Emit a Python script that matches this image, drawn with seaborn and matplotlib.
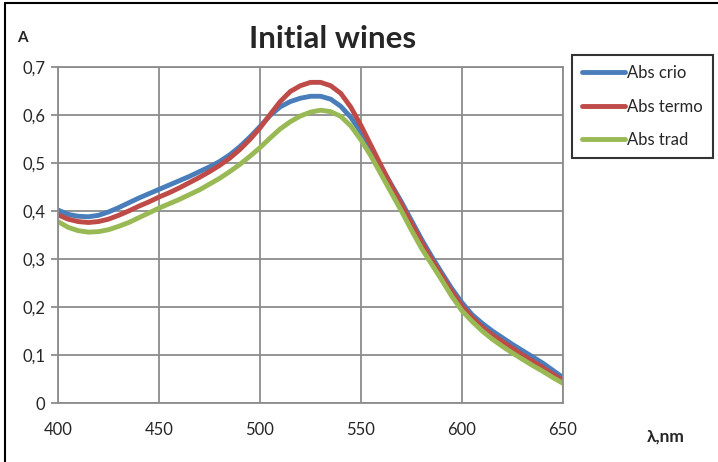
import numpy as np
import pandas as pd
import matplotlib
matplotlib.use("Agg")
import matplotlib.pyplot as plt
import seaborn as sns
from matplotlib.lines import Line2D

# wavelength, nm
wavelength = [400, 405, 410, 415, 420, 425, 430, 435, 440, 445, 450, 455, 460, 465, 470,
              475, 480, 485, 490, 495, 500, 505, 510, 515, 520, 525, 530, 535, 540, 545,
              550, 555, 560, 565, 570, 575, 580, 585, 590, 595, 600, 605, 610, 615, 620,
              625, 630, 635, 640, 645, 650]

abs_crio = [0.402, 0.393, 0.389, 0.388, 0.391, 0.398, 0.407, 0.417, 0.427, 0.436, 0.445,
            0.454, 0.463, 0.472, 0.482, 0.492, 0.503, 0.517, 0.534, 0.554, 0.576, 0.599,
            0.617, 0.628, 0.635, 0.639, 0.639, 0.633, 0.618, 0.595, 0.564, 0.528, 0.491,
            0.455, 0.419, 0.380, 0.341, 0.305, 0.271, 0.238, 0.209, 0.184, 0.166, 0.150,
            0.136, 0.122, 0.109, 0.096, 0.083, 0.068, 0.053]

abs_termo = [0.392, 0.383, 0.378, 0.376, 0.378, 0.383, 0.391, 0.400, 0.410, 0.419, 0.429,
             0.438, 0.448, 0.459, 0.470, 0.482, 0.495, 0.510, 0.528, 0.549, 0.573, 0.601,
             0.628, 0.649, 0.661, 0.668, 0.668, 0.661, 0.645, 0.616, 0.578, 0.536, 0.494,
             0.453, 0.414, 0.374, 0.335, 0.299, 0.265, 0.232, 0.202, 0.178, 0.158, 0.142,
             0.128, 0.114, 0.100, 0.087, 0.074, 0.060, 0.047]

abs_trad = [0.378, 0.366, 0.359, 0.356, 0.357, 0.361, 0.368, 0.376, 0.386, 0.396, 0.406,
            0.415, 0.424, 0.434, 0.444, 0.456, 0.468, 0.482, 0.497, 0.514, 0.532, 0.552,
            0.571, 0.586, 0.598, 0.606, 0.610, 0.607, 0.597, 0.577, 0.548, 0.514, 0.476,
            0.438, 0.400, 0.360, 0.322, 0.289, 0.256, 0.222, 0.192, 0.170, 0.150, 0.133,
            0.118, 0.104, 0.091, 0.078, 0.066, 0.053, 0.041]

series_names = ["Abs crio", "Abs termo", "Abs trad"]
colors = ["#4a7ebb", "#be4b48", "#98b954"]

x_ticks = [400, 450, 500, 550, 600, 650]
y_ticks = [0, 0.1, 0.2, 0.3, 0.4, 0.5, 0.6, 0.7]
y_tick_labels = ["0", "0,1", "0,2", "0,3", "0,4", "0,5", "0,6", "0,7"]

df = pd.DataFrame({"nm": wavelength, "Abs crio": abs_crio,
                   "Abs termo": abs_termo, "Abs trad": abs_trad})
long_df = df.melt(id_vars="nm", var_name="serie", value_name="A")

sns.set_style("white")
plt.rcParams["font.family"] = ["Lato", "DejaVu Sans"]

fig = plt.figure(figsize=(7.18, 4.62), dpi=100)
ax = fig.add_axes([58 / 718, 1 - 403 / 462, (563 - 58) / 718, (403 - 67) / 462])

sns.lineplot(data=long_df, x="nm", y="A", hue="serie", hue_order=series_names,
             palette=colors, linewidth=3.5, ax=ax, legend=False)
for ln in ax.get_lines():
    ln.set_solid_joinstyle("round")
    ln.set_solid_capstyle("round")

ax.set_xlim(400, 650)
ax.set_ylim(0, 0.7)
ax.set_xticks(x_ticks)
ax.set_xticklabels([str(v) for v in x_ticks], fontsize=12)
ax.set_yticks(y_ticks)
ax.set_yticklabels(y_tick_labels, fontsize=12)
ax.set_xlabel("")
ax.set_ylabel("")
ax.grid(True, color="#8c8c8c", linewidth=1.3)
ax.set_axisbelow(True)
for s in ax.spines.values():
    s.set_color("#8c8c8c")
    s.set_linewidth(1.3)
ax.tick_params(axis="y", length=5, color="#8c8c8c", width=1.3, pad=4, left=True)
ax.tick_params(axis="x", length=0, pad=14)

fig.text(333 / 718, 1 - 48 / 462, "Initial wines", fontsize=22.5, fontweight="bold",
         ha="center", va="baseline")
fig.text(22 / 718, 1 - 38 / 462, "A", fontsize=11, fontweight="bold", ha="center",
         va="center")
fig.text(666 / 718, 1 - 437 / 462, "λ,nm", fontsize=12.5, fontweight="bold",
         ha="center", va="center")

handles = [Line2D([0], [0], color=c, linewidth=3.5) for c in colors]
leg = fig.legend(handles, series_names, loc="upper left",
                 bbox_to_anchor=(572 / 718, 1 - 55 / 462), fontsize=12,
                 frameon=True, fancybox=False, handlelength=2.6, handletextpad=0.1,
                 labelspacing=1.05, borderpad=0.6, borderaxespad=0)
leg.get_frame().set_edgecolor("black")
leg.get_frame().set_linewidth(1.5)

# outer frame (left and top edges visible)
fig.add_artist(Line2D([5 / 718, 5 / 718], [0, 1 - 3 / 462], color="black",
                      linewidth=1.5, transform=fig.transFigure))
fig.add_artist(Line2D([5 / 718, 1], [1 - 3 / 462, 1 - 3 / 462], color="black",
                      linewidth=1.5, transform=fig.transFigure))

fig.savefig("out.png", dpi=100)
